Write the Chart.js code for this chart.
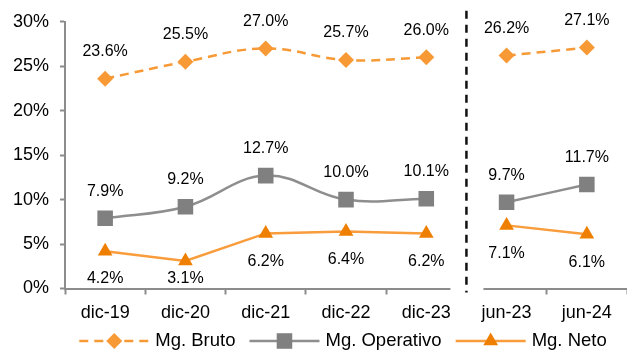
<!DOCTYPE html>
<html>
<head>
<meta charset="utf-8">
<script src="https://cdn.jsdelivr.net/npm/chart.js@4.4.1/dist/chart.umd.min.js"></script>
<style>
  html, body { margin: 0; padding: 0; background: #ffffff; overflow: hidden; }
  #wrap { width: 627px; height: 351px; position: relative; }
  #c { display: block; }
</style>
</head>
<body>
<div id="wrap"><canvas id="c"></canvas></div>
<script>
// Periods: five year-end closings followed by two half-year cuts
const categories = ['dic-19', 'dic-20', 'dic-21', 'dic-22', 'dic-23', 'jun-23', 'jun-24'];
const annualCount = 5;

// Margins in percent
const mgBruto     = [23.6, 25.5, 27.0, 25.7, 26.0, 26.2, 27.1];
const mgOperativo = [7.9, 9.2, 12.7, 10.0, 10.1, 9.7, 11.7];
const mgNeto      = [4.2, 3.1, 6.2, 6.4, 6.2, 7.1, 6.1];

const yTickValues = [0, 5, 10, 15, 20, 25, 30];
const seriesNames = ['Mg. Bruto', 'Mg. Operativo', 'Mg. Neto'];

const AXIS_GREY = '#8C8C8C';
const FONT = "'Liberation Sans', Arial, sans-serif";

const seriesStyles = [
  { line: '#F79A36', point: '#F79A36', dash: [9, 6], pointStyle: 'rectRot', radius: 8, width: 2.5, tension: 0.4, label: 'above' },
  { line: '#8E8E8E', point: '#808080', dash: [], pointStyle: 'rect', radius: 11, width: 2.5, tension: 0.4, label: 'above' },
  { line: '#F99C3C', point: '#EF7F00', dash: [], pointStyle: 'triangle', radius: 8.5, width: 2.5, tension: 0, label: 'below' }
];

// Each series is split in two pieces so the annual and the half-year runs are not joined
function piece(values, from, to) {
  return values.map((v, i) => (i >= from && i < to ? v : null));
}

const datasets = [];
[mgBruto, mgOperativo, mgNeto].forEach((values, s) => {
  const st = seriesStyles[s];
  [[0, annualCount], [annualCount, categories.length]].forEach(([a, b]) => {
    datasets.push({
      label: seriesNames[s],
      data: piece(values, a, b),
      seriesIndex: s,
      borderColor: st.line,
      borderWidth: st.width,
      borderDash: st.dash,
      backgroundColor: st.point,
      pointBackgroundColor: st.point,
      pointBorderColor: st.point,
      pointBorderWidth: 0,
      pointStyle: st.pointStyle,
      pointRadius: st.radius,
      pointHoverRadius: st.radius,
      tension: st.tension,
      spanGaps: false,
      fill: false
    });
  });
});

// Value labels above / below each point
const valueLabels = {
  id: 'valueLabels',
  afterDatasetsDraw(chart) {
    const ctx = chart.ctx;
    const area = chart.chartArea;
    ctx.save();
    ctx.font = '16px ' + FONT;
    ctx.fillStyle = '#000000';
    ctx.textAlign = 'center';
    ctx.textBaseline = 'middle';
    chart.data.datasets.forEach((ds, di) => {
      const meta = chart.getDatasetMeta(di);
      const st = seriesStyles[ds.seriesIndex];
      meta.data.forEach((el, i) => {
        const v = ds.data[i];
        if (v === null || v === undefined) return;
        let y = st.label === 'above' ? el.y - 27 : el.y + 28;
        if (y > area.bottom - 10) y = area.bottom - 10;
        ctx.fillText(v.toFixed(1) + '%', el.x, y);
      });
    });
    ctx.restore();
  }
};

// Separator between annual and half-year periods, with a break in the category axis
const periodSeparator = {
  id: 'periodSeparator',
  afterDraw(chart) {
    const ctx = chart.ctx;
    const area = chart.chartArea;
    const xs = chart.scales.x;
    const xb = (xs.getPixelForValue(annualCount - 1) + xs.getPixelForValue(annualCount)) / 2;
    ctx.save();
    ctx.fillStyle = '#ffffff';
    ctx.fillRect(xb - 16, area.bottom - 3, 33, 7);
    ctx.strokeStyle = '#111111';
    ctx.lineWidth = 2.5;
    ctx.setLineDash([8, 6]);
    ctx.beginPath();
    ctx.moveTo(xb, area.top - 11);
    ctx.lineTo(xb, area.bottom + 4);
    ctx.stroke();
    ctx.restore();
  }
};

// Legend: line sample with marker, then the series name
const lineLegend = {
  id: 'lineLegend',
  afterDraw(chart) {
    const ctx = chart.ctx;
    const area = chart.chartArea;
    const sample = 70, gapText = 6, gapItem = 14;
    ctx.save();
    ctx.font = '18.5px ' + FONT;
    const widths = seriesNames.map(n => sample + gapText + ctx.measureText(n).width);
    const total = widths.reduce((a, b) => a + b, 0) + gapItem * (seriesNames.length - 1);
    let x = (area.left + area.right) / 2 - 3 - total / 2;
    const y = chart.height - 10;
    seriesNames.forEach((name, s) => {
      const st = seriesStyles[s];
      ctx.strokeStyle = st.line;
      ctx.lineWidth = st.width;
      ctx.setLineDash(st.dash);
      ctx.beginPath();
      ctx.moveTo(x, y);
      ctx.lineTo(x + sample, y);
      ctx.stroke();
      ctx.setLineDash([]);
      ctx.fillStyle = st.point;
      ctx.strokeStyle = st.point;
      Chart.helpers.drawPoint(ctx, { pointStyle: st.pointStyle, radius: st.radius, borderWidth: 0, rotation: 0 }, x + sample / 2, y);
      ctx.fillStyle = '#000000';
      ctx.textAlign = 'left';
      ctx.textBaseline = 'middle';
      ctx.fillText(name, x + sample + gapText, y);
      x += widths[s] + gapItem;
    });
    ctx.restore();
  }
};

new Chart(document.getElementById('c'), {
  type: 'line',
  data: { labels: categories, datasets: datasets },
  plugins: [valueLabels, periodSeparator, lineLegend],
  options: {
    responsive: true,
    maintainAspectRatio: false,
    animation: false,
    events: [],
    layout: { autoPadding: false, padding: { top: 17.5, right: 0, bottom: 28, left: 0 } },
    plugins: {
      legend: { display: false },
      tooltip: { enabled: false }
    },
    scales: {
      x: {
        type: 'category',
        offset: true,
        grid: {
          display: true,
          offset: true,
          drawOnChartArea: false,
          drawTicks: true,
          tickLength: 6,
          tickWidth: 2,
          tickColor: (c) => (c.index === annualCount ? 'rgba(0,0,0,0)' : AXIS_GREY)
        },
        border: { display: true, color: AXIS_GREY, width: 2 },
        ticks: { color: '#000000', font: { family: FONT, size: 18 }, padding: 8, maxRotation: 0, autoSkip: false },
        afterFit: (s) => { s.height = 34.5; }
      },
      y: {
        min: yTickValues[0],
        max: yTickValues[yTickValues.length - 1],
        afterBuildTicks: (s) => { s.ticks = yTickValues.map(v => ({ value: v })); },
        grid: { display: true, drawOnChartArea: false, drawTicks: true, tickLength: 5, tickWidth: 2, tickColor: AXIS_GREY },
        border: { display: true, color: AXIS_GREY, width: 2 },
        ticks: { color: '#000000', font: { family: FONT, size: 18 }, padding: 11, callback: (v) => v + '%' },
        afterFit: (s) => { s.width = 65; }
      }
    }
  }
});
</script>
</body>
</html>
